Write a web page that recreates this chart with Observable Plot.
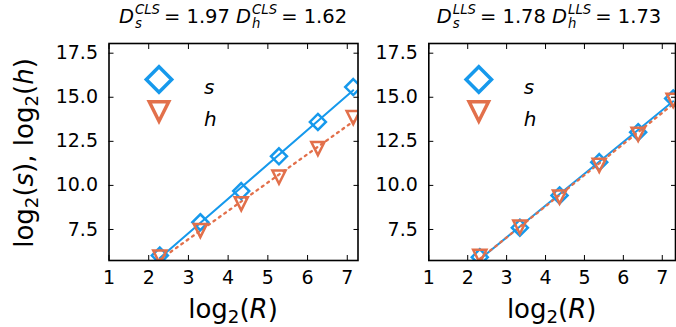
<!DOCTYPE html>
<html>
<head>
<meta charset="utf-8">
<script src="https://cdn.jsdelivr.net/npm/d3@7"></script>
<script src="https://cdn.jsdelivr.net/npm/@observablehq/plot@0.6"></script>
<style>
  html, body { margin: 0; padding: 0; background: white; }
  #wrap { position: relative; width: 676px; height: 327px; overflow: hidden; font-family: "DejaVu Sans", sans-serif; color: black; }
  .panel { position: absolute; top: 0; }
  .title { position: absolute; top: 5px; font-size: 19.5px; white-space: nowrap; transform: translateX(-50%); line-height: 24px; }
  .scr { display: inline-block; position: relative; font-size: 0.68em; font-style: italic; line-height: 0.8; margin-left: 1px; margin-right: 4px; }
  .scr .up { position: relative; top: -0.66em; }
  .scr .dn { position: absolute; left: 0; top: 0.36em; }
  .xlab { position: absolute; top: 294px; font-size: 26px; white-space: nowrap; transform: translateX(-50%); line-height: 30px; }
  .ylab { position: absolute; left: 24px; top: 153px; font-size: 26px; white-space: nowrap; transform: translate(-50%, -50%) rotate(-90deg); line-height: 30px; }
  sub { font-size: 0.7em; vertical-align: -0.25em; line-height: 0; }
</style>
</head>
<body>
<div id="wrap">
  <div id="p1" class="panel" style="left:0px"></div>
  <div id="p2" class="panel" style="left:360px"></div>
</div>
<script>
// ---- data ----
const logR_CLS = [2.28, 3.30, 4.33, 5.28, 6.26, 7.15];
const s_CLS    = [6.02, 7.91, 9.68, 11.65, 13.60, 15.58];
const h_CLS    = [5.93, 7.44, 8.96, 10.47, 12.09, 13.85];

const logR_LLS = [2.31, 3.34, 4.36, 5.38, 6.38, 7.28];
const s_LLS    = [5.93, 7.60, 9.43, 11.32, 13.02, 14.93];
const h_LLS    = [5.97, 7.63, 9.34, 11.14, 12.90, 14.83];

const xTicks = [1, 2, 3, 4, 5, 6, 7];
const yTicks = [7.5, 10.0, 12.5, 15.0, 17.5];
const seriesNames = ["s", "h"];
const titleParts = [
  {method: "CLS", Ds: "1.97", Dh: "1.62"},
  {method: "LLS", Ds: "1.78", Dh: "1.73"}
];

const blue = "#1699ec";
const orange = "#e2704b";

// matplotlib-like open symbols (r = half extent in px)
const diamond = {draw(ctx, size) { const r = Math.sqrt(size / Math.PI); ctx.moveTo(0, -r); ctx.lineTo(r, 0); ctx.lineTo(0, r); ctx.lineTo(-r, 0); ctx.closePath(); }};
const triDown = {draw(ctx, size) { const r = Math.sqrt(size / Math.PI); ctx.moveTo(-r, -r); ctx.lineTo(r, -r); ctx.lineTo(0, r); ctx.closePath(); }};

function build(xs, ss, hs, width, marginLeft, marginRight, xDomain) {
  const data = xs.map((x, i) => ({x, s: ss[i], h: hs[i]}));
  return Plot.plot({
    width, height: 327,
    marginLeft, marginRight, marginTop: 43, marginBottom: 67,
    x: {domain: xDomain},
    y: {domain: [5.74, 18.05]},
    style: {fontFamily: "DejaVu Sans", fontSize: "19px", color: "black", background: "white", overflow: "visible"},
    marks: [
      Plot.linearRegressionY(data, {x: "x", y: "s", stroke: blue, strokeWidth: 2, ci: 0, clip: true}),
      Plot.linearRegressionY(data, {x: "x", y: "h", stroke: orange, strokeWidth: 2.3, strokeDasharray: "2,4.6", ci: 0, clip: true}),
      Plot.dot(data, {x: "x", y: "s", symbol: diamond, r: 8, stroke: blue, strokeWidth: 2.5, fill: "none", clip: true}),
      Plot.dot(data, {x: "x", y: "h", symbol: triDown, r: 6.6, stroke: orange, strokeWidth: 2.5, fill: "none", clip: true}),
      Plot.axisX({anchor: "bottom", ticks: xTicks, tickSize: -5, tickFormat: () => "", label: null}),
      Plot.axisX({anchor: "top", ticks: xTicks, tickSize: -5, tickFormat: () => "", label: null}),
      Plot.axisY({anchor: "left", ticks: yTicks, tickSize: -5, tickFormat: () => "", label: null}),
      Plot.axisY({anchor: "right", ticks: yTicks, tickSize: -5, tickFormat: () => "", label: null}),
      Plot.axisX({anchor: "bottom", ticks: xTicks, tickSize: 0, tickPadding: 10, tickFormat: d => String(d), label: null, fontSize: 19}),
      Plot.axisY({anchor: "left", ticks: yTicks, tickSize: 0, tickPadding: 11, tickFormat: d => d.toFixed(1), label: null, fontSize: 19}),
      Plot.frame({stroke: "black", strokeWidth: 1.6}),
      Plot.dot([seriesNames[0]], {frameAnchor: "top-left", dx: 50, dy: 36, symbol: diamond, r: 12.7, stroke: blue, strokeWidth: 3.5, fill: "none"}),
      Plot.dot([seriesNames[1]], {frameAnchor: "top-left", dx: 50, dy: 68, symbol: triDown, r: 9.7, stroke: orange, strokeWidth: 3.5, fill: "none"}),
      Plot.text([seriesNames[0]], {frameAnchor: "top-left", dx: 95, dy: 36, text: d => d, fontStyle: "italic", fontSize: 20, textAnchor: "start"}),
      Plot.text([seriesNames[1]], {frameAnchor: "top-left", dx: 95, dy: 68, text: d => d, fontStyle: "italic", fontSize: 20, textAnchor: "start"})
    ]
  });
}

document.getElementById("p1").appendChild(build(logR_CLS, s_CLS, h_CLS, 360, 108.5, 2.5, [1, 7.27]));
document.getElementById("p2").appendChild(build(logR_LLS, s_LLS, h_LLS, 316, 68.3, 1, [1, 7.34]));

// titles and axis labels
const wrap = document.getElementById("wrap");
function addTitle(t, cx) {
  const div = document.createElement("div");
  div.className = "title";
  div.style.left = cx + "px";
  div.innerHTML = `<i>D</i><span class="scr"><span class="up">${t.method}</span><span class="dn">s</span></span>= ${t.Ds} <i>D</i><span class="scr"><span class="up">${t.method}</span><span class="dn">h</span></span>= ${t.Dh}`;
  wrap.appendChild(div);
}
addTitle(titleParts[0], 233);
addTitle(titleParts[1], 549);

function addXLabel(cx) {
  const div = document.createElement("div");
  div.className = "xlab";
  div.style.left = cx + "px";
  div.innerHTML = `log<sub>2</sub>(<i>R</i>)`;
  wrap.appendChild(div);
}
addXLabel(233);
addXLabel(551.7);

const yl = document.createElement("div");
yl.className = "ylab";
yl.innerHTML = `log<sub>2</sub>(<i>s</i>), log<sub>2</sub>(<i>h</i>)`;
wrap.appendChild(yl);
</script>
</body>
</html>
